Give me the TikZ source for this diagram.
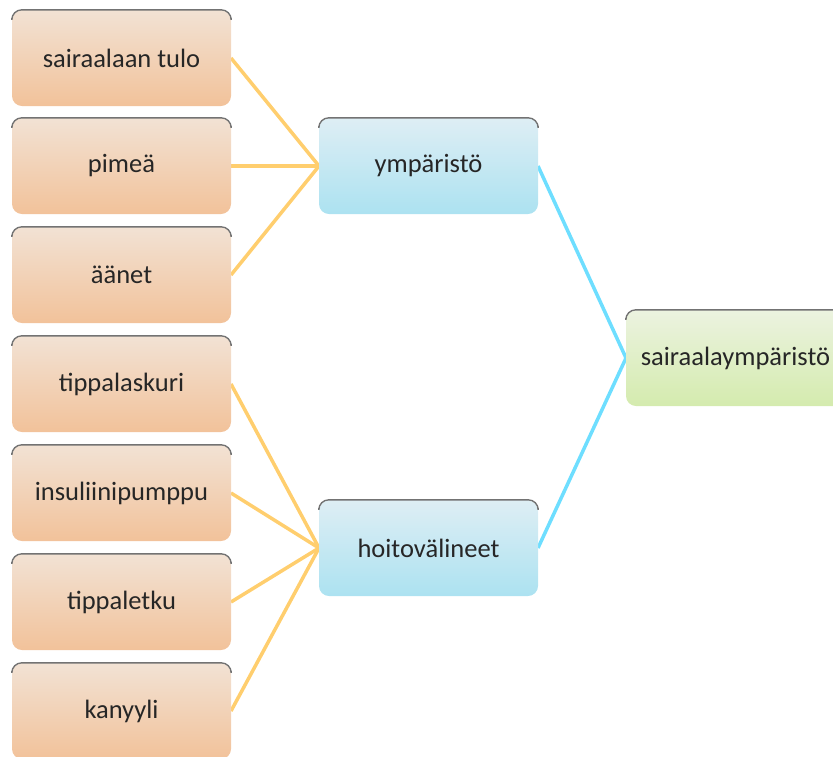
\documentclass[tikz,border=0pt]{standalone}
\usepackage{fontspec}
\setmainfont{Carlito}
\begin{document}
\begin{tikzpicture}[x=1pt,y=-1pt,
  box/.style={rounded corners=10pt, minimum width=219pt, minimum height=96pt,
    inner sep=0pt, font=\fontsize{26.5}{30}\selectfont, text=black!85},
  leaf/.style={box, top color=leaftop, bottom color=leafbot},
  mid/.style={box, top color=midtop, bottom color=midbot},
  root/.style={box, top color=roottop, bottom color=rootbot},
  topedge/.style={draw=black!55, line width=1.4pt, rounded corners=10pt},
  orangeline/.style={draw=linkorange, line width=3.5pt},
  blueline/.style={draw=linkblue, line width=3.5pt}]
\definecolor{leaftop}{RGB}{242,226,212}
\definecolor{leafbot}{RGB}{242,194,154}
\definecolor{midtop}{RGB}{222,238,244}
\definecolor{midbot}{RGB}{172,226,241}
\definecolor{roottop}{RGB}{236,243,224}
\definecolor{rootbot}{RGB}{212,235,174}
\definecolor{linkorange}{RGB}{255,206,110}
\definecolor{linkblue}{RGB}{110,222,255}
\useasboundingbox (0,0) rectangle (833,756);
\clip (0,0) rectangle (833,756);

% connectors (drawn first, boxes on top)
\coordinate (l1) at (231,58);
\coordinate (l2) at (231,166);
\coordinate (l3) at (231,275);
\coordinate (l4) at (231,384);
\coordinate (l5) at (231,493);
\coordinate (l6) at (231,602);
\coordinate (l7) at (231,711);
\coordinate (m1) at (319,166);
\coordinate (m2) at (319,548);
\coordinate (m1r) at (538,166);
\coordinate (m2r) at (538,548);
\coordinate (rl) at (626,358);
\foreach \a in {l1,l2,l3} \draw[orangeline] (\a) -- (m1);
\foreach \a in {l4,l5,l6,l7} \draw[orangeline] (\a) -- (m2);
\draw[blueline] (m1r) -- (rl) -- (m2r);

% left column
\node[leaf] (n1) at (121.5,58) {sairaalaan tulo};
\node[leaf] (n2) at (121.5,166) {pimeä};
\node[leaf] (n3) at (121.5,275) {äänet};
\node[leaf] (n4) at (121.5,384) {tippalaskuri};
\node[leaf] (n5) at (121.5,493) {insuliinipumppu};
\node[leaf] (n6) at (121.5,602) {tippaletku};
\node[leaf] (n7) at (121.5,711) {kanyyli};

% middle column
\node[mid] (env) at (428.5,166) {ympäristö};
\node[mid] (care) at (428.5,548) {hoitovälineet};

% right
\node[root] (hosp) at (735.5,358) {sairaalaympäristö};

% dark top bevel of every box
\foreach \n in {n1,n2,n3,n4,n5,n6,n7,env,care,hosp}
  \draw[topedge] ([yshift=-8pt]\n.north west) -- (\n.north west) -- (\n.north east) -- ([yshift=-8pt]\n.north east);
\end{tikzpicture}
\end{document}
